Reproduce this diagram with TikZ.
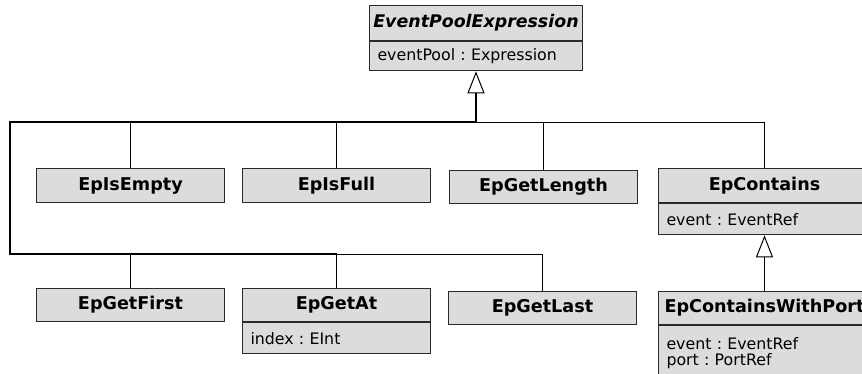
\documentclass[tikz,border=0pt]{standalone}
\usepackage{fontspec}
\setmainfont{DejaVu Sans}
\usetikzlibrary{arrows.meta}
\definecolor{boxfill}{HTML}{DCDCDC}
\definecolor{boxline}{HTML}{2A2A2A}
\newcommand\umlsize{\frenchspacing\fontsize{15.8pt}{16pt}\selectfont}
\newcommand\umltitle{\frenchspacing\fontsize{17.6pt}{19pt}\selectfont\bfseries}
\begin{document}
\begin{tikzpicture}[x=1pt,y=-1pt,
  cls/.style={draw=boxline, line width=1.2pt, fill=boxfill, minimum width=188pt,
    minimum height=34pt, inner sep=0pt, font=\umltitle},
  attrbox/.style={draw=boxline, line width=1.2pt, fill=boxfill, inner xsep=8pt,
    inner ysep=0pt, align=left, anchor=north, font=\umlsize},
  branch/.style={draw=black, line width=1pt},
  trunk/.style={draw=black, line width=2pt},
  gen/.style={-{Triangle[open, length=22pt, width=17pt, line width=1pt]}, fill=white}]
\useasboundingbox (0,0) rectangle (862,373);
\clip (0,0) rectangle (862,373);
\fill[white] (0,0) rectangle (862,373);

% top class
\node[cls, minimum width=213pt, minimum height=35pt, font=\umltitle\itshape\fontsize{17.4pt}{19pt}\selectfont] (epe) at (476,23) {EventPoolExpression};
\node[attrbox, text width=197pt, minimum height=29pt] (epea) at (epe.south) {eventPool : Expression};

% first row
\node[cls] (isempty) at (130.5,185.5) {EpIsEmpty};
\node[cls] (isfull) at (336.5,185.5) {EpIsFull};
\node[cls, minimum height=33pt] (getlength) at (543.5,187) {EpGetLength};
\node[cls, minimum width=212pt] (contains) at (764.5,185.5) {EpContains};
\node[attrbox, text width=196pt, minimum height=31pt] (containsa) at (contains.south) {event : EventRef};

% second row
\node[cls, minimum height=33pt] (getfirst) at (130.5,305) {EpGetFirst};
\node[cls, minimum height=33pt] (getat) at (336.5,305) {EpGetAt};
\node[attrbox, text width=172pt, minimum height=31pt] (getata) at (getat.south) {index : EInt};
\node[cls, minimum height=33pt] (getlast) at (542.5,308) {EpGetLast};
\node[cls, minimum width=212pt, minimum height=33pt] (cwp) at (764.5,308) {EpContainsWithPort};
\node[attrbox, text width=196pt, minimum height=54pt] (cwpa) at (cwp.south) {event : EventRef\\port : PortRef};

% connector routing points
\coordinate (j) at (epea.south |- 0,122);
\coordinate (jr) at (epea.south |- 0,122.5);
\coordinate (lt) at (10,122);
\coordinate (lb) at (10,254);
\coordinate (lbr) at (10,254.5);

% trunk to the parent with the generalization arrow
\draw[trunk, gen] (j) -- (epea.south);
\draw[trunk] (j) -- (lt) -- (lb) -- (getat.north |- lb);

% first row branches
\draw[branch] (isempty.north) -- (isempty.north |- jr);
\draw[branch] (isfull.north) -- (isfull.north |- jr);
\draw[branch] (getlength.north) -- (getlength.north |- jr);
\draw[branch] (jr) -| (contains.north);

% second row branches
\draw[branch] (getfirst.north) -- (getfirst.north |- lbr);
\draw[branch] (getat.north) -- (getat.north |- lbr);
\draw[branch] (getat.north |- lbr) -| (getlast.north);

% EpContainsWithPort -> EpContains
\draw[branch, gen] (cwp.north) -- (containsa.south);
\end{tikzpicture}
\end{document}
